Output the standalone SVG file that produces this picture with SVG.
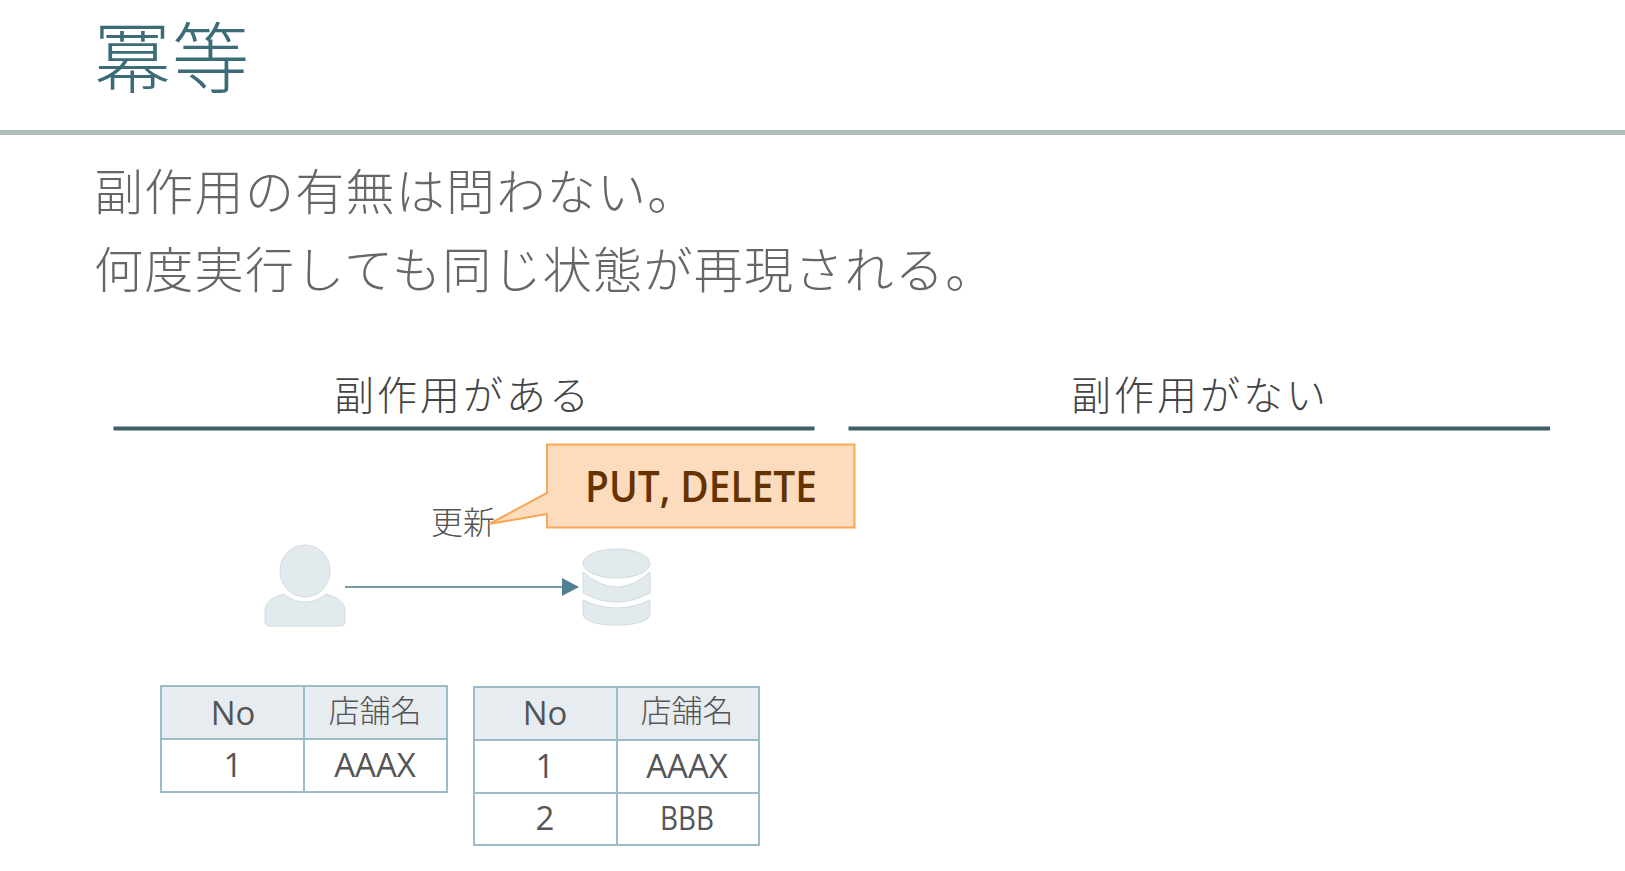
<svg xmlns="http://www.w3.org/2000/svg" width="1625" height="871" viewBox="0 0 1625 871">
<style>
text{font-family:"Noto Sans CJK JP","Noto Sans",sans-serif;font-weight:300}
.title{font-size:77px;fill:#3b6c78;letter-spacing:1px}
.body{font-size:49px;fill:#666;letter-spacing:1.3px}
.head{font-size:40px;fill:#444;letter-spacing:3px;text-anchor:middle}
.cell{font-size:31px;fill:#555;text-anchor:middle}
.latin{font-family:"Open Sans","Noto Sans",sans-serif;font-weight:400;font-size:33px}
.hdr{fill:#e6ecf0}
.grid{fill:none;stroke:#9dbcc8;stroke-width:2}
.rule{fill:#3f5f66}
.shape{fill:#e3eaee;stroke:#d0dbe0;stroke-width:1}
</style>
<defs>
<marker id="arrow" markerUnits="userSpaceOnUse" markerWidth="17" markerHeight="18" refX="16" refY="9" orient="auto"><path d="M0 0L17 9L0 18Z" fill="#4f8093"/></marker>
</defs>
<rect width="1625" height="871" fill="#fff"/>
<g id="header">
<text class="title" x="94" y="87">冪等</text>
<rect x="0" y="130" width="1625" height="5" fill="#b0bdb9"/>
</g>
<g id="intro">
<text class="body" x="94" y="210">副作用の有無は問わない。</text>
<text class="body" x="94" y="288">何度実行しても同じ状態が再現される。</text>
</g>
<g id="heading-left">
<text class="head" x="463" y="410">副作用がある</text>
<rect class="rule" x="113.500" y="426.500" width="701" height="4"/>
</g>
<g id="heading-right">
<text class="head" x="1200" y="410">副作用がない</text>
<rect class="rule" x="848.500" y="426.500" width="701.500" height="4"/>
</g>
<g id="label-update">
<text class="cell" x="463" y="534" style="font-size:32px">更新</text>
</g>
<g id="callout">
<path d="M547 444.500H854.500V527.500H547V514L489 524L547 493Z" fill="#fddcbd" stroke="#f5a855" stroke-width="2"/>
<text class="latin" x="701" y="502" text-anchor="middle" style="font-size:43px;font-weight:600;fill:#663300" textLength="232" lengthAdjust="spacingAndGlyphs">PUT, DELETE</text>
</g>
<g id="user">
<ellipse class="shape" cx="305" cy="571" rx="25" ry="26"/>
<path class="shape" d="M265 621V611C265 602 273 597 284 594C291 600 298 602 305 602C312 602 319 600 326 594C337 597 345 602 345 611V621Q345 626 340 626H270Q265 626 265 621Z"/>
</g>
<g id="database">
<ellipse class="shape" cx="616.500" cy="563.500" rx="33.500" ry="14.500"/>
<path class="shape" d="M583 572Q616.500 602 650 572V593Q616.500 611 583 593Z"/>
<path class="shape" d="M583 600Q616.500 616 650 600V614C650 629 583 629 583 614Z"/>
</g>
<g id="connectors">
<line x1="345" y1="587" x2="578" y2="587" stroke="#7c9aa6" stroke-width="2" marker-end="url(#arrow)"/>
</g>
<g id="table-before">
<rect class="hdr" x="161" y="686" width="286" height="53"/>
<path class="grid" d="M161 686H447V792H161ZM161 739H447M304 686V792"/>
<text class="cell latin" x="233" y="725">No</text>
<text class="cell" x="375" y="722">店舗名</text>
<text class="cell latin" x="233" y="777">1</text>
<text class="cell latin" x="375" y="777">AAAX</text>
</g>
<g id="table-after">
<rect class="hdr" x="474" y="687" width="285" height="53"/>
<path class="grid" d="M474 687H759V845H474ZM474 740H759M474 793H759M617 687V845"/>
<text class="cell latin" x="545" y="725">No</text>
<text class="cell" x="687" y="722">店舗名</text>
<text class="cell latin" x="545" y="778">1</text>
<text class="cell latin" x="687" y="778">AAAX</text>
<text class="cell latin" x="545" y="830">2</text>
<text class="cell latin" x="687" y="830" textLength="54" lengthAdjust="spacingAndGlyphs">BBB</text>
</g>
</svg>
